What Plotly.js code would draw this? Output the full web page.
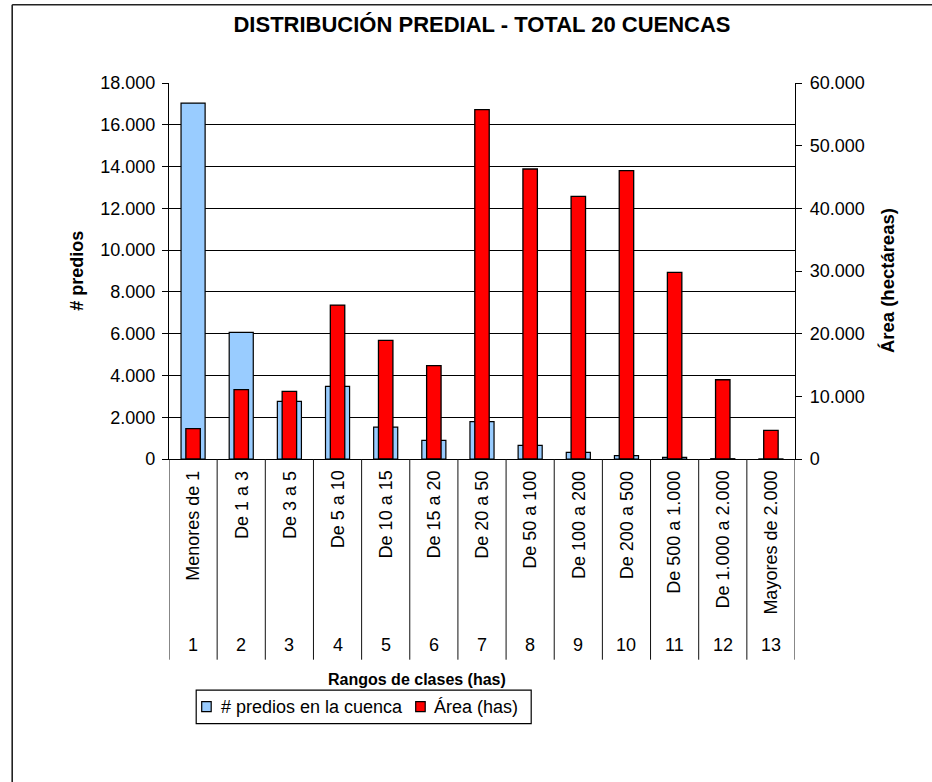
<!DOCTYPE html>
<html>
<head>
<meta charset="utf-8">
<script src="https://cdn.plot.ly/plotly-3.0.1.min.js"></script>
<style>
html,body{margin:0;padding:0;background:#fff;}
#chart{width:932px;height:782px;}
</style>
</head>
<body>
<div id="chart"></div>
<script>
// ---- data ----
const classNumbers = [1,2,3,4,5,6,7,8,9,10,11,12,13];
const classLabels = ["Menores de 1","De 1 a 3","De 3 a 5","De 5 a 10","De 10 a 15","De 15 a 20","De 20 a 50","De 50 a 100","De 100 a 200","De 200 a 500","De 500 a 1.000","De 1.000 a 2.000","Mayores de 2.000"];
const predios = [17040,6060,2760,3480,1530,890,1790,650,320,160,80,15,5];
const areaHas = [4840,11060,10790,24570,18930,14890,55740,46280,41900,46010,29780,12650,4560];
const seriesNames = ["# predios en la cuenca","Área (has)"];
const seriesColors = ["#99CCFF","#FF0000"];
const chartTitle = "DISTRIBUCIÓN PREDIAL - TOTAL 20 CUENCAS";
const yTitle = "# predios";
const y2Title = "Área (hectáreas)";
const xTitle = "Rangos de clases (has)";

const FONT = "Liberation Sans, Arial, sans-serif";

// plot-area geometry (pixels) used to place decorations in paper coordinates
const PL = 169.3, PW = 626, PB = 459.3, PH = 376;
const px = v => (v - PL) / PW;
const py = v => (PB - v) / PH;

const traces = [
  {
    type: "bar", name: seriesNames[0], x: classNumbers, y: predios,
    yaxis: "y", width: 0.5, showlegend: false,
    marker: {color: seriesColors[0], line: {color: "#000000", width: 1.2}},
    hoverinfo: "x+y"
  },
  {
    type: "bar", name: seriesNames[1], x: classNumbers, y: areaHas,
    yaxis: "y2", width: 0.3, showlegend: false,
    marker: {color: seriesColors[1], line: {color: "#000000", width: 1.3}},
    hoverinfo: "x+y"
  }
];

const annotations = [];
classNumbers.forEach((n, i) => {
  annotations.push({
    xref: "x", yref: "paper", x: n, y: py(469), text: classLabels[i],
    textangle: -90, xanchor: "center", yanchor: "top", showarrow: false,
    font: {family: FONT, size: 18, color: "#000"}
  });
  annotations.push({
    xref: "x", yref: "paper", x: n, y: py(645), text: String(n),
    xanchor: "center", yanchor: "middle", showarrow: false,
    font: {family: FONT, size: 18, color: "#000"}
  });
});
annotations.push({
  xref: "paper", yref: "paper", x: px(417), y: py(680), text: "<b>" + xTitle + "</b>",
  xanchor: "center", yanchor: "middle", showarrow: false,
  font: {family: FONT, size: 16, color: "#000"}
});
annotations.push({
  xref: "paper", yref: "paper", x: px(77), y: 0.5, text: "<b>" + yTitle + "</b>",
  textangle: -90, xanchor: "center", yanchor: "middle", showarrow: false,
  font: {family: FONT, size: 18, color: "#000"}
});
annotations.push({
  xref: "paper", yref: "paper", x: px(888), y: 0.475, text: "<b>" + y2Title + "</b>",
  textangle: -90, xanchor: "center", yanchor: "middle", showarrow: false,
  font: {family: FONT, size: 18.5, color: "#000"}
});

const shapes = [];
for (let k = 0; k <= classNumbers.length; k++) {
  shapes.push({
    type: "line", xref: "x", yref: "paper",
    x0: k + 0.5, x1: k + 0.5, y0: 0, y1: py(660),
    line: {color: "#111", width: 1}
  });
}
// outer chart frame (left and top edges visible)
shapes.push({type: "line", xref: "paper", yref: "paper", x0: px(12.5), x1: px(12.5), y0: py(5), y1: py(800), line: {color: "#222", width: 1.6}});
shapes.push({type: "line", xref: "paper", yref: "paper", x0: px(12.5), x1: px(950), y0: py(5), y1: py(5), line: {color: "#222", width: 1.6}});

// legend (box, swatches, labels)
shapes.push({type: "rect", xref: "paper", yref: "paper", x0: px(196.5), x1: px(531.5), y0: py(690.5), y1: py(724),
  line: {color: "#000", width: 1.2}, fillcolor: "#fff"});
const legendItems = [{sx: 202, tx: 219}, {sx: 416, tx: 432}];
legendItems.forEach((it, i) => {
  shapes.push({type: "rect", xref: "paper", yref: "paper", x0: px(it.sx), x1: px(it.sx + 9.5), y0: py(702), y1: py(712),
    line: {color: "#000", width: 1.2}, fillcolor: seriesColors[i]});
  annotations.push({xref: "paper", yref: "paper", x: px(it.tx), y: py(707.5), text: seriesNames[i],
    xanchor: "left", yanchor: "middle", showarrow: false,
    font: {family: FONT, size: 18, color: "#000"}});
});

const layout = {
  width: 932, height: 782,
  margin: {l: 169, r: 137, t: 83, b: 323, pad: 0},
  paper_bgcolor: "#fff", plot_bgcolor: "#fff",
  separators: ",.",
  font: {family: FONT, size: 18, color: "#000"},
  title: {
    text: "<b>" + chartTitle + "</b>", xref: "paper", x: 0.5, xanchor: "center",
    yref: "container", y: 1 - 24.5 / 782, yanchor: "middle",
    font: {family: FONT, size: 22, color: "#000"}
  },
  barmode: "overlay",
  showlegend: false,
  xaxis: {
    range: [0.5, 13.5], showticklabels: false, ticks: "", showgrid: false,
    showline: true, linecolor: "#000", linewidth: 1, zeroline: false,
    fixedrange: true
  },
  yaxis: {
    range: [0, 18000], dtick: 2000, tickformat: ",d",
    ticks: "outside", ticklen: 6, tickcolor: "#000", ticklabelstandoff: 3,
    showline: true, linecolor: "#000", linewidth: 1.2,
    showgrid: true, gridcolor: "#000", gridwidth: 1, zeroline: false,
    tickfont: {family: FONT, size: 18, color: "#000"}
  },
  yaxis2: {
    overlaying: "y", side: "right", anchor: "x",
    range: [0, 60000], dtick: 10000, tickformat: ",d",
    ticks: "outside", ticklen: 6, tickcolor: "#000", ticklabelstandoff: 4,
    showline: true, linecolor: "#000", linewidth: 1.2,
    showgrid: false, zeroline: false,
    tickfont: {family: FONT, size: 18, color: "#000"}
  },
  annotations: annotations,
  shapes: shapes
};

Plotly.newPlot("chart", traces, layout, {displayModeBar: false, staticPlot: true});
</script>
</body>
</html>
